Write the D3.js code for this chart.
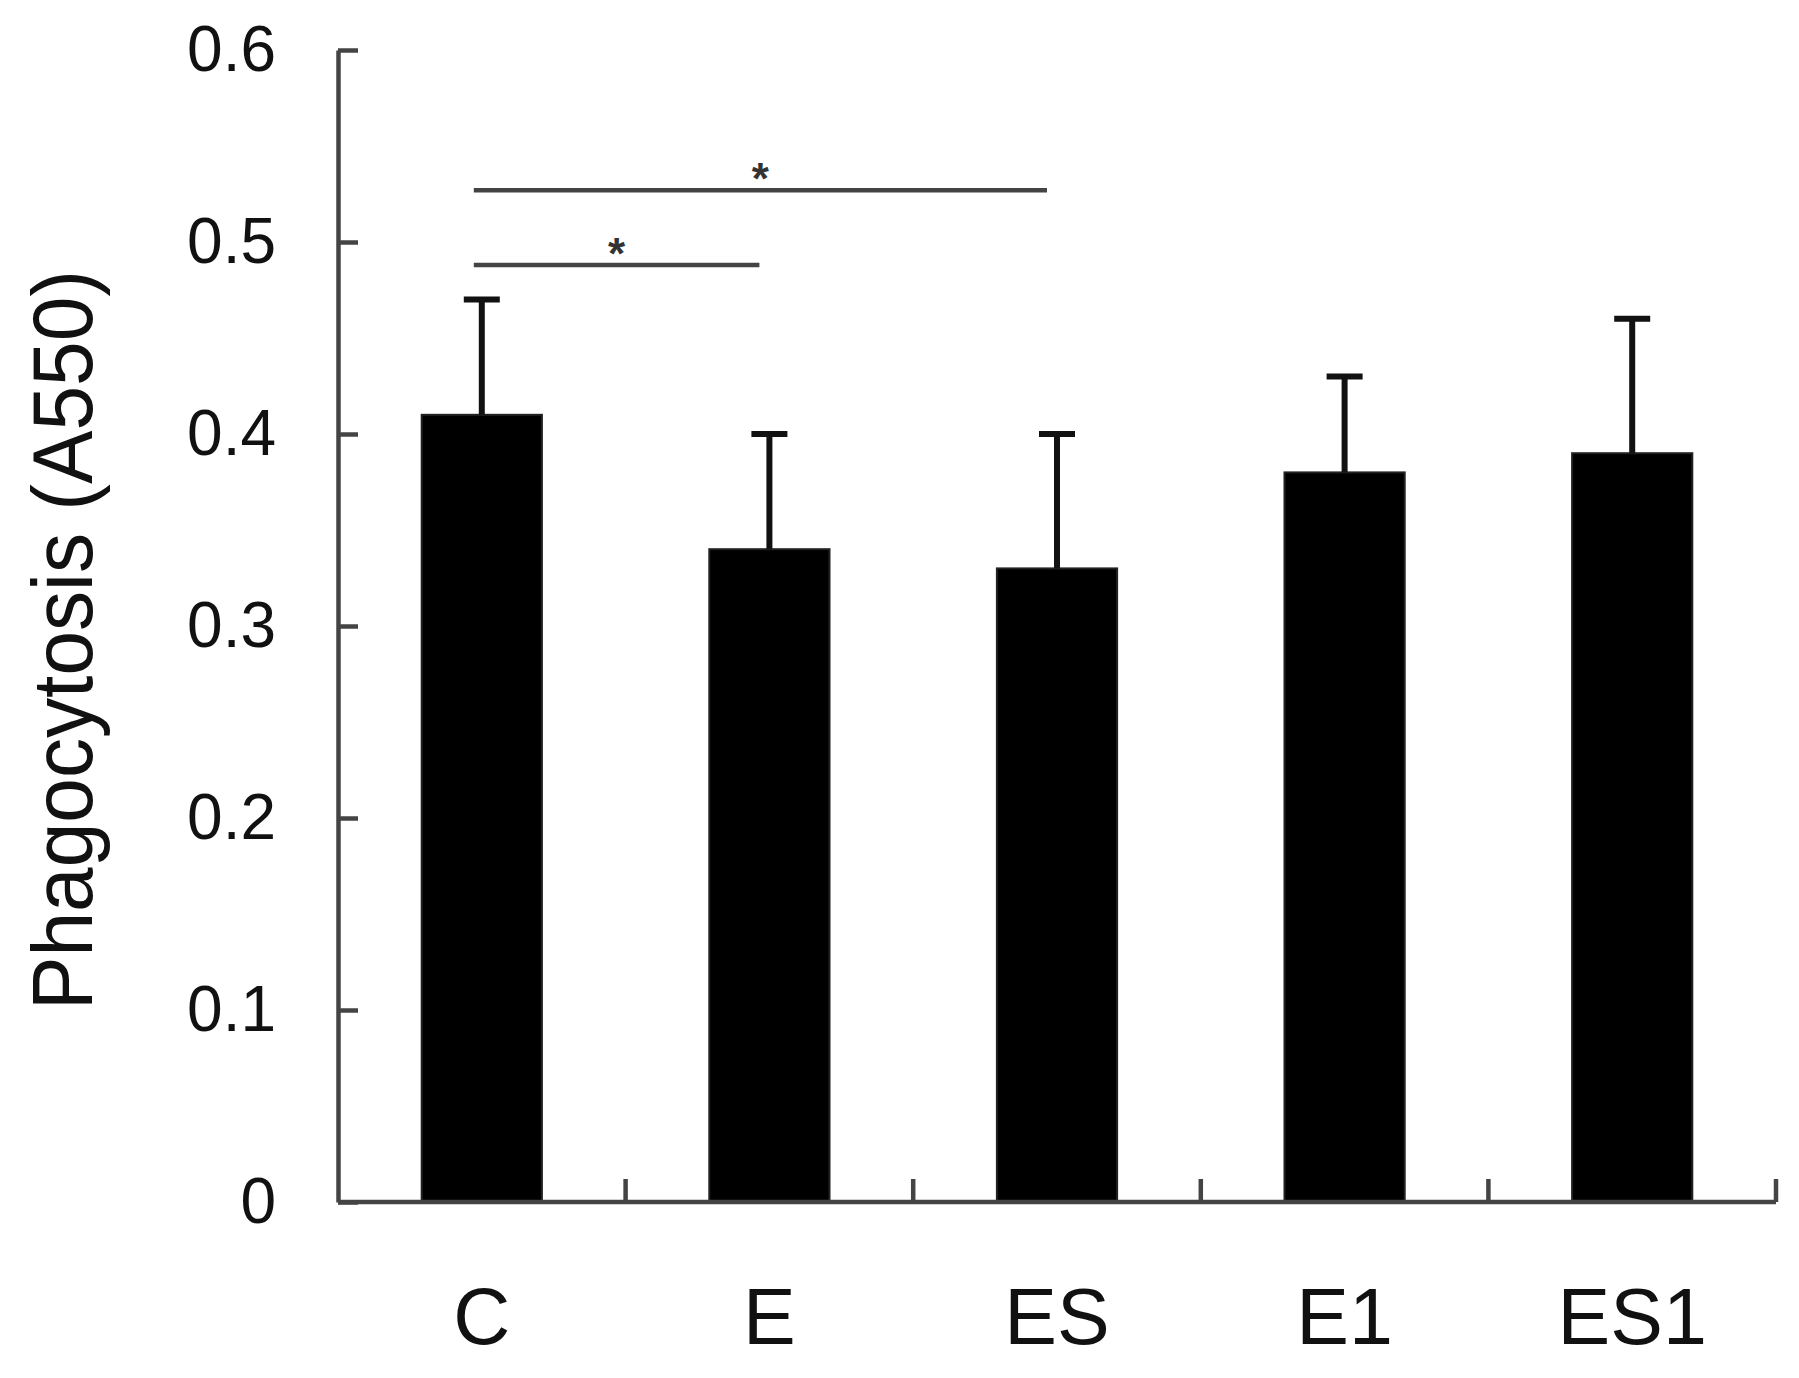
<!DOCTYPE html>
<html>
<head>
  <meta charset="utf-8">
  <title>Phagocytosis (A550)</title>
  <style>
    body { margin: 0; background: #fff; }
    text { font-family: "Liberation Sans", Arial, sans-serif; }
  </style>
</head>
<body>
  <script src="https://cdn.jsdelivr.net/npm/d3@7/dist/d3.min.js"></script>
  <script>
    // data
    const groups = ["C", "E", "ES", "E1", "ES1"];
    const means = [0.41, 0.34, 0.33, 0.38, 0.39];
    const errTops = [0.47, 0.40, 0.40, 0.43, 0.46];
    const yTicks = [0, 0.1, 0.2, 0.3, 0.4, 0.5, 0.6];
    // significance brackets: from, to, height on the value axis
    const sigFrom = ["C", "C"];
    const sigTo = ["E", "ES"];
    const sigLevel = [0.488, 0.527];
    const sigLabel = ["*", "*"];

    const W = 1799, H = 1378;
    const margin = {top: 50, right: 23, bottom: 176, left: 338};
    const axisColor = "#444";

    const svg = d3.select("body").append("svg")
      .attr("width", W)
      .attr("height", H);

    const x = d3.scaleBand()
      .domain(groups)
      .range([margin.left, W - margin.right])
      .paddingInner(0.582)
      .paddingOuter(0.291);

    const y = d3.scaleLinear()
      .domain([0, 0.6])
      .range([H - margin.bottom, margin.top]);

    const cx = g => x(g) + x.bandwidth() / 2;

    // bars
    svg.selectAll(".bar")
      .data(groups)
      .enter().append("rect")
      .attr("class", "bar")
      .attr("x", d => x(d))
      .attr("y", (d, i) => y(means[i]))
      .attr("width", x.bandwidth())
      .attr("height", (d, i) => y(0) - y(means[i]))
      .attr("fill", "#000")
      .attr("stroke", "#222")
      .attr("stroke-width", 2);

    // error bars (upper only)
    const capHalf = 18;
    svg.selectAll(".err")
      .data(groups)
      .enter().append("line")
      .attr("class", "err")
      .attr("x1", d => cx(d)).attr("x2", d => cx(d))
      .attr("y1", (d, i) => y(means[i]))
      .attr("y2", (d, i) => y(errTops[i]))
      .attr("stroke", "#111")
      .attr("stroke-width", 6);

    svg.selectAll(".cap")
      .data(groups)
      .enter().append("line")
      .attr("class", "cap")
      .attr("x1", d => cx(d) - capHalf).attr("x2", d => cx(d) + capHalf)
      .attr("y1", (d, i) => y(errTops[i]))
      .attr("y2", (d, i) => y(errTops[i]))
      .attr("stroke", "#111")
      .attr("stroke-width", 6);

    // y axis
    const yAxis = d3.axisRight(y)
      .tickValues(yTicks)
      .tickSize(20)
      .tickSizeOuter(0)
      .tickFormat(d3.format("~g"));

    const gy = svg.append("g")
      .attr("transform", "translate(" + margin.left + ",0)")
      .call(yAxis);
    gy.select(".domain").attr("stroke", axisColor).attr("stroke-width", 4.5);
    gy.selectAll(".tick line").attr("stroke", axisColor).attr("stroke-width", 4.5);
    gy.selectAll(".tick text")
      .attr("x", -62)
      .attr("text-anchor", "end")
      .attr("font-size", 64)
      .attr("fill", "#111");

    // x axis: baseline with ticks at the group boundaries
    const gx = svg.append("g");
    gx.append("line")
      .attr("x1", margin.left).attr("x2", W - margin.right)
      .attr("y1", y(0)).attr("y2", y(0))
      .attr("stroke", axisColor)
      .attr("stroke-width", 4.5);

    gx.selectAll(".xtick")
      .data(groups)
      .enter().append("line")
      .attr("class", "xtick")
      .attr("x1", d => x(d) - x.step() * x.paddingOuter() + x.step())
      .attr("x2", d => x(d) - x.step() * x.paddingOuter() + x.step())
      .attr("y1", y(0))
      .attr("y2", y(0) - 23)
      .attr("stroke", axisColor)
      .attr("stroke-width", 4.5);

    gx.selectAll(".xlabel")
      .data(groups)
      .enter().append("text")
      .attr("class", "xlabel")
      .attr("x", d => cx(d))
      .attr("y", y(0) + 142)
      .attr("text-anchor", "middle")
      .attr("font-size", 79)
      .attr("fill", "#111")
      .text(d => d);

    // y axis title
    svg.append("text")
      .attr("transform", "translate(92," + 640 + ") rotate(-90)")
      .attr("text-anchor", "middle")
      .attr("font-size", 86)
      .attr("textLength", 740)
      .attr("lengthAdjust", "spacingAndGlyphs")
      .attr("fill", "#111")
      .text("Phagocytosis (A550)");

    // significance brackets
    sigFrom.forEach((f, i) => {
      const x1 = cx(f) - 8;
      const x2 = cx(sigTo[i]) - 10;
      svg.append("line")
        .attr("x1", x1).attr("x2", x2)
        .attr("y1", y(sigLevel[i])).attr("y2", y(sigLevel[i]))
        .attr("stroke", axisColor)
        .attr("stroke-width", 4.5);
      svg.append("text")
        .attr("x", (x1 + x2) / 2)
        .attr("y", y(sigLevel[i]) + 4)
        .attr("text-anchor", "middle")
        .attr("font-size", 44)
        .attr("font-weight", "bold")
        .attr("fill", "#333")
        .text(sigLabel[i]);
    });
  </script>
</body>
</html>
